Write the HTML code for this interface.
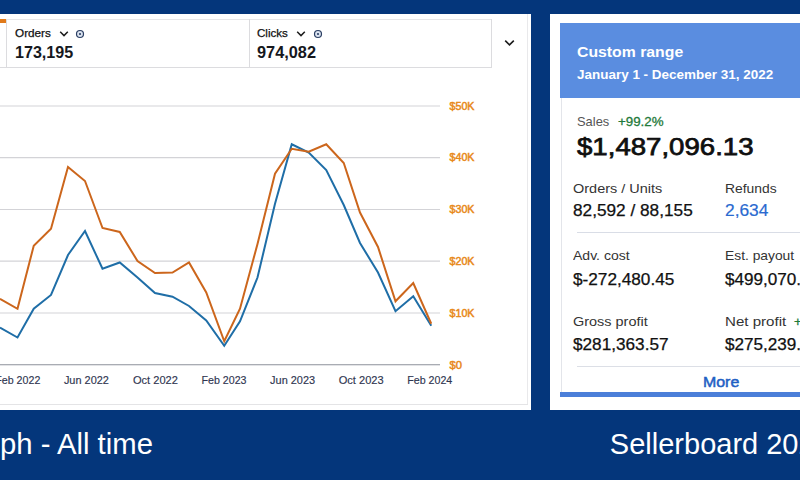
<!DOCTYPE html>
<html><head><meta charset="utf-8"><title>Sellerboard</title>
<style>
html,body{margin:0;padding:0}
body{width:800px;height:480px;overflow:hidden;background:#04367b;position:relative;font-family:"Liberation Sans",sans-serif;color:#1a1a1a}
.abs{position:absolute;white-space:nowrap;line-height:1;transform-origin:0 50%}
.panel{position:absolute;left:0;top:14px;width:531px;height:396.3px;background:#fff;overflow:hidden}
.chart{position:absolute;left:0;top:0}
.yl{font:10px "Liberation Sans",sans-serif;fill:#e8891a;stroke:#e8891a;stroke-width:.45px}
.xl{font:10.8px "Liberation Sans",sans-serif;fill:#2f3550;stroke:#2f3550;stroke-width:.15px}
.ln{position:absolute;background:#dcdcdf}
.card{position:absolute;left:550px;top:14px;width:260px;height:396.4px;background:#fff}
.hdr{position:absolute;left:560.4px;top:23.2px;width:250px;height:74.8px;background:#5a8de0}
</style></head><body>
<div class="panel">
<svg class="chart" width="531" height="397" viewBox="0 14 531 397">
<line x1="0" y1="106" x2="440" y2="106" stroke="#d3d3d7" stroke-width="1.2"/>
<line x1="0" y1="157.7" x2="440" y2="157.7" stroke="#d3d3d7" stroke-width="1.2"/>
<line x1="0" y1="209.5" x2="440" y2="209.5" stroke="#d3d3d7" stroke-width="1.2"/>
<line x1="0" y1="261.2" x2="440" y2="261.2" stroke="#d3d3d7" stroke-width="1.2"/>
<line x1="0" y1="313" x2="440" y2="313" stroke="#d3d3d7" stroke-width="1.2"/>
<line x1="0" y1="364.8" x2="440" y2="364.8" stroke="#8c909a" stroke-width="1.1"/>
<polyline fill="none" stroke="#1f6ea7" stroke-width="2.0" stroke-linejoin="miter" points="0.00,327.50 17.50,337.50 33.75,308.75 51.00,295.00 68.00,255.00 85.00,231.00 102.50,268.75 119.75,262.50 137.50,277.50 155.00,293.00 172.50,296.75 189.00,306.00 206.25,320.50 224.25,345.75 240.00,321.25 257.50,277.50 275.00,203.75 291.75,144.25 308.75,152.50 326.25,170.00 343.75,205.00 360.00,243.00 378.00,272.50 395.50,311.25 413.25,296.25 431.25,325.75"/>
<polyline fill="none" stroke="#cc661c" stroke-width="2.0" stroke-linejoin="miter" points="0.00,298.75 17.50,308.75 33.75,245.75 51.00,228.75 68.00,167.00 85.00,181.00 102.50,228.00 119.75,232.00 137.50,261.00 155.00,273.00 172.50,272.50 189.00,262.50 206.25,292.50 224.25,341.25 240.00,308.75 257.50,244.00 275.00,173.75 291.75,148.75 308.75,151.75 326.25,144.25 343.75,163.00 360.00,212.50 378.00,247.00 395.50,301.25 413.25,283.00 431.25,323.75"/>
<text x="449.5" y="109.7" class="yl" textLength="25" lengthAdjust="spacingAndGlyphs">$50K</text>
<text x="449.5" y="161.39999999999998" class="yl" textLength="25" lengthAdjust="spacingAndGlyphs">$40K</text>
<text x="449.5" y="213.2" class="yl" textLength="25" lengthAdjust="spacingAndGlyphs">$30K</text>
<text x="449.5" y="264.9" class="yl" textLength="25" lengthAdjust="spacingAndGlyphs">$20K</text>
<text x="449.5" y="316.7" class="yl" textLength="25" lengthAdjust="spacingAndGlyphs">$10K</text>
<text x="449.5" y="368.5" class="yl" textLength="12.5" lengthAdjust="spacingAndGlyphs">$0</text>
<text x="-4.7" y="383.7" class="xl" textLength="45" lengthAdjust="spacingAndGlyphs">Feb 2022</text>
<text x="63.9" y="383.7" class="xl" textLength="45" lengthAdjust="spacingAndGlyphs">Jun 2022</text>
<text x="132.9" y="383.7" class="xl" textLength="45" lengthAdjust="spacingAndGlyphs">Oct 2022</text>
<text x="201.5" y="383.7" class="xl" textLength="45" lengthAdjust="spacingAndGlyphs">Feb 2023</text>
<text x="270.1" y="383.7" class="xl" textLength="45" lengthAdjust="spacingAndGlyphs">Jun 2023</text>
<text x="338.7" y="383.7" class="xl" textLength="45" lengthAdjust="spacingAndGlyphs">Oct 2023</text>
<text x="407.3" y="383.7" class="xl" textLength="45" lengthAdjust="spacingAndGlyphs">Feb 2024</text>
</svg>
</div>
<!-- metric boxes -->
<div class="ln" style="left:0;top:67px;width:491px;height:1px"></div>
<div class="ln" style="left:6px;top:18.5px;width:485px;height:1px;background:#e6e6e8"></div>
<div class="ln" style="left:6px;top:19px;width:1px;height:48px"></div>
<div class="ln" style="left:248.5px;top:19px;width:1px;height:48px"></div>
<div class="ln" style="left:491px;top:19px;width:1px;height:49px"></div>
<div class="ln" style="left:527px;top:14px;width:1px;height:391px;background:#e9e9eb"></div>
<div class="ln" style="left:0;top:404px;width:528px;height:1px;background:#e4e4e6"></div>
<div class="abs" style="left:0;top:19px;width:5.5px;height:3.5px;background:#e07a1a"></div>
<svg class="abs" style="left:59px;top:30px" width="10" height="8" viewBox="0 0 10 8"><path d="M1.2 1.8 L5 5.6 L8.8 1.8" fill="none" stroke="#1c1c1c" stroke-width="1.5"/></svg><svg class="abs" style="left:75.25px;top:29.25px" width="10" height="10" viewBox="0 0 10 10"><circle cx="5" cy="5" r="3.5" fill="#dbe3f0" stroke="#2b3f63" stroke-width="1.2"/><circle cx="5" cy="5" r="1.1" fill="#2b3f63"/></svg>
<svg class="abs" style="left:296px;top:30px" width="10" height="8" viewBox="0 0 10 8"><path d="M1.2 1.8 L5 5.6 L8.8 1.8" fill="none" stroke="#1c1c1c" stroke-width="1.5"/></svg><svg class="abs" style="left:312.5px;top:28.75px" width="10" height="10" viewBox="0 0 10 10"><circle cx="5" cy="5" r="3.5" fill="#dbe3f0" stroke="#2b3f63" stroke-width="1.2"/><circle cx="5" cy="5" r="1.1" fill="#2b3f63"/></svg>
<svg class="abs" style="left:503.5px;top:39px" width="11" height="8" viewBox="0 0 11 8"><path d="M1.2 1.6 L5.5 5.8 L9.8 1.6" fill="none" stroke="#1c1c1c" stroke-width="1.6"/></svg>

<!-- right card -->
<div class="card"></div>
<div class="ln" style="left:561px;top:98px;width:1px;height:299px;background:#e3e5ea"></div>
<div class="hdr"></div>
<div class="ln" style="left:577px;top:232px;width:223px;height:1px;background:#d9dde6"></div>
<div class="ln" style="left:576.6px;top:366px;width:224px;height:1px;background:#dcdfe6"></div>
<div class="abs" style="left:560.4px;top:392.2px;width:240px;height:4.4px;background:#4b7fd9"></div>
<div class="abs" style="left:14.80px;top:27.87px;font-size:11.5px;transform:scaleX(1.0214);color:#111;-webkit-text-stroke:.25px #111">Orders</div>
<div class="abs" style="left:15.28px;top:44.69px;font-size:15.6px;transform:scaleX(1.0321);font-weight:bold;color:#16181d">173,195</div>
<div class="abs" style="left:257.31px;top:27.87px;font-size:11.5px;transform:scaleX(1.0071);color:#111;-webkit-text-stroke:.25px #111">Clicks</div>
<div class="abs" style="left:257.02px;top:44.69px;font-size:15.6px;transform:scaleX(1.0458);font-weight:bold;color:#16181d">974,082</div>
<div class="abs" style="left:577.05px;top:44.05px;font-size:15.3px;transform:scaleX(1.0326);font-weight:bold;color:#fff">Custom range</div>
<div class="abs" style="left:577.19px;top:69.23px;font-size:12.6px;transform:scaleX(1.0692);font-weight:bold;color:#fff">January 1 - December 31, 2022</div>
<div class="abs" style="left:577.23px;top:116.33px;font-size:12.6px;transform:scaleX(1.0249);color:#555">Sales</div>
<div class="abs" style="left:618.45px;top:116.33px;font-size:12.6px;transform:scaleX(1.0586);color:#1f7a3a;-webkit-text-stroke:.3px #1f7a3a">+99.2%</div>
<div class="abs" style="left:577.09px;top:134.75px;font-size:24.4px;transform:scaleX(1.1319);color:#0f0f0f;-webkit-text-stroke:.75px #0f0f0f">$1,487,096.13</div>
<div class="abs" style="left:572.78px;top:182.56px;font-size:12.8px;transform:scaleX(1.1311);color:#333">Orders / Units</div>
<div class="abs" style="left:572.62px;top:203.16px;font-size:16px;transform:scaleX(1.0764);color:#111;-webkit-text-stroke:.25px #111">82,592 / 88,155</div>
<div class="abs" style="left:725.17px;top:182.56px;font-size:12.8px;transform:scaleX(1.0838);color:#333">Refunds</div>
<div class="abs" style="left:724.56px;top:203.16px;font-size:16px;transform:scaleX(1.0832);color:#2a6ad0;-webkit-text-stroke:.2px #2a6ad0">2,634</div>
<div class="abs" style="left:572.81px;top:250.36px;font-size:12.8px;transform:scaleX(1.0957);color:#333">Adv. cost</div>
<div class="abs" style="left:572.62px;top:271.86px;font-size:16px;transform:scaleX(1.0742);color:#111;-webkit-text-stroke:.25px #111">$-272,480.45</div>
<div class="abs" style="left:724.77px;top:250.46px;font-size:12.8px;transform:scaleX(1.0801);color:#333">Est. payout</div>
<div class="abs" style="left:724.57px;top:271.86px;font-size:16px;transform:scaleX(1.0690);color:#111;-webkit-text-stroke:.25px #111">$499,070.94</div>
<div class="abs" style="left:572.78px;top:315.86px;font-size:12.8px;transform:scaleX(1.1292);color:#333">Gross profit</div>
<div class="abs" style="left:572.62px;top:336.66px;font-size:16px;transform:scaleX(1.0733);color:#111;-webkit-text-stroke:.25px #111">$281,363.57</div>
<div class="abs" style="left:724.69px;top:315.56px;font-size:12.8px;transform:scaleX(1.1789);color:#333">Net profit</div>
<div class="abs" style="left:793.62px;top:315.73px;font-size:12.6px;transform:scaleX(1.0300);color:#1f7a3a;-webkit-text-stroke:.3px #1f7a3a">+41.8%</div>
<div class="abs" style="left:724.57px;top:336.66px;font-size:16px;transform:scaleX(1.0690);color:#111;-webkit-text-stroke:.25px #111">$275,239.18</div>
<div class="abs" style="left:703.44px;top:374.84px;font-size:14.6px;transform:scaleX(1.0905);color:#1f5fc4;-webkit-text-stroke:.5px #1f5fc4">More</div>
<div class="abs" style="left:-0.16px;top:430.35px;font-size:29px;transform:scaleX(1.0093);color:#fff">ph - All time</div>
<div class="abs" style="left:609.86px;top:430.35px;font-size:29px;transform:scaleX(1.0000);color:#fff">Sellerboard 2022</div>
</body></html>
